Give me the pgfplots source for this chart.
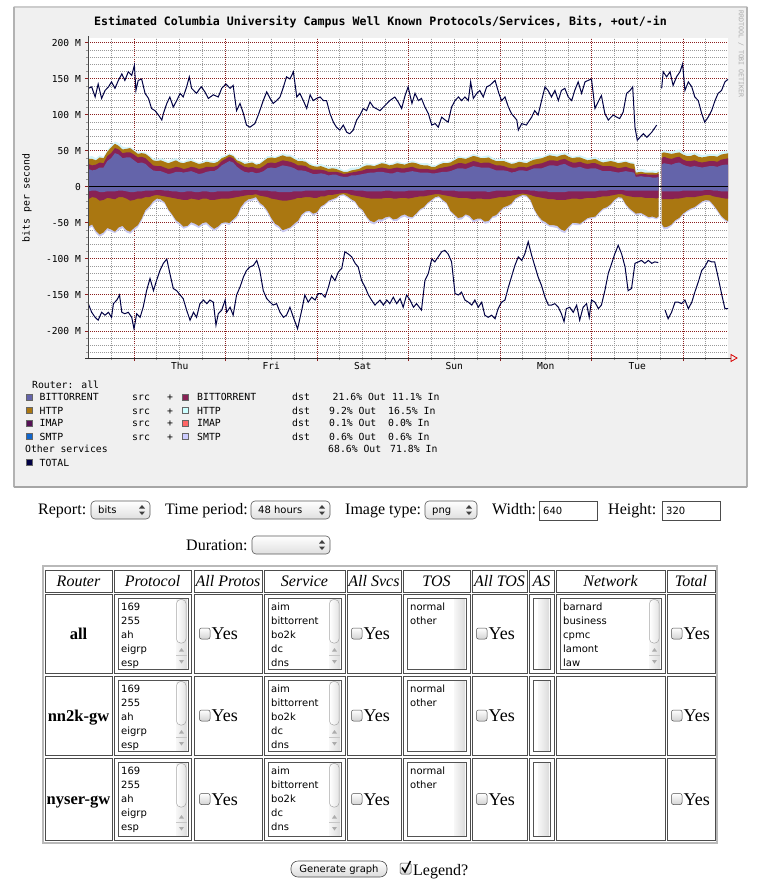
\documentclass[border=0pt]{standalone}
\usepackage{fontspec}
\setmainfont{Liberation Serif}
\newfontfamily\rrdfont{DejaVu Sans Mono}
\newfontfamily\uifont{DejaVu Sans}
\usepackage{pgfplots}
\pgfplotsset{compat=1.18}
\usepackage{pgfplotstable}

\definecolor{rrdback}{HTML}{F0F0F0}
\definecolor{rrdmajor}{HTML}{8C2020}
\definecolor{rrdminor}{HTML}{999999}
\definecolor{btsrc}{HTML}{6464AA}
\definecolor{btdst}{HTML}{882255}
\definecolor{httpsrc}{HTML}{AA7711}
\definecolor{httpdst}{HTML}{CCFFFF}
\definecolor{imapsrc}{HTML}{551155}
\definecolor{imapdst}{HTML}{FF6666}
\definecolor{smtpsrc}{HTML}{1166CC}
\definecolor{smtpdst}{HTML}{CCCCFF}
\definecolor{totalc}{HTML}{000044}
\definecolor{posedge}{HTML}{D4F4FA}
\definecolor{negedge}{HTML}{C8C8F0}

\tikzset{
 rrd/.style={font=\rrdfont\fontsize{9.8}{11}\selectfont, inner sep=0pt, anchor=base west, text=black},
 html/.style={font=\fontsize{16}{18}\selectfont, inner sep=0pt, anchor=base west},
 yes/.style={font=\fontsize{18}{20}\selectfont, inner sep=0pt, anchor=base west},
 ui/.style={font=\uifont\fontsize{10}{12}\selectfont, inner sep=0pt, anchor=base west},
 cellb/.style={draw=gray!60!black, line width=0.8pt},
}

\newcommand{\dropdown}[4]{%
 \shadedraw[top color=white, bottom color=gray!25, rounded corners=4pt, draw=gray!70!black, line width=0.6pt] (#1,-#3+9) rectangle (#2,-#3-9);
 \node[ui] at (#1+7,-#3-3.5) {#4};
 \fill[black!75] (#2-11,-#3+1.5) -- (#2-8,-#3+5) -- (#2-5,-#3+1.5) -- cycle;
 \fill[black!75] (#2-11,-#3-1.5) -- (#2-8,-#3-5) -- (#2-5,-#3-1.5) -- cycle;
}
\newcommand{\checkbox}[2]{%
 \shadedraw[top color=white, bottom color=gray!35, draw=gray!60!black, rounded corners=2pt, line width=0.5pt] (#1,-#2+5.5) rectangle (#1+10.5,-#2-5.5);}
\newcommand{\listbox}[6]{%
 \fill[white] (#1,-#2) rectangle (#3,-#4);
 \shade[left color=gray!6, right color=gray!28] (#3-12,-#2-1) rectangle (#3-1,-#4+1);
 \ifnum#6=1
   \shadedraw[left color=white, right color=gray!22, draw=gray!70, rounded corners=4pt, line width=0.5pt] (#3-11.5,-#2-1.5) rectangle (#3-2,-#2-45);
   \draw[gray!45] (#3-12,-#4+14) -- (#3-1,-#4+14);
   \fill[gray!65] (#3-9,-#4+17.5) -- (#3-6.5,-#4+21) -- (#3-4,-#4+17.5) -- cycle;
   \fill[gray!65] (#3-9,-#4+9) -- (#3-6.5,-#4+5.5) -- (#3-4,-#4+9) -- cycle;
 \fi
 \foreach \t [count=\i] in {#5} {\node[ui] at (#1+3,{-(#2+12+14*(\i-1))}) {\t};}
 \draw[gray!65!black, line width=0.8pt] (#1,-#2) rectangle (#3,-#4);
}

\pgfplotstableread{
h b m g l nb nm ng nl
-12 25 32 39 42 -6 -17 -55 -58
-11 23 30 39 43 -5 -14 -52 -55
-10 24 31 37 40 -5 -15 -61 -64
-9 27 34 41 44 -7 -19 -66 -69
-8 27 33 40 42 -7 -18 -63 -66
-7 36 43 49 51 -6 -15 -57 -60
-6 40 47 55 58 -6 -16 -59 -62
-5 47 54 60 63 -6 -17 -62 -64
-4 45 52 57 61 -5 -14 -56 -60
-3 40 47 52 56 -5 -14 -54 -57
-2 41 48 53 55 -6 -16 -60 -63
-1 41 48 54 56 -7 -19 -62 -65
0 37 45 50 52 -7 -18 -57 -60
1 33 41 46 49 -6 -16 -53 -56
2 34 42 47 49 -6 -16 -44 -47
3 32 40 46 48 -5 -14 -32 -35
4 27 35 42 44 -5 -14 -27 -30
5 23 30 37 40 -5 -12 -20 -23
6 22 29 36 38 -4 -11 -16 -19
7 22 29 37 40 -4 -12 -17 -20
8 20 27 35 38 -5 -13 -21 -23
9 18 25 33 36 -5 -14 -31 -33
10 19 26 35 39 -6 -15 -38 -40
11 21 28 37 40 -6 -16 -46 -49
12 21 27 34 37 -7 -17 -50 -53
13 20 25 33 35 -7 -18 -55 -58
14 21 26 35 38 -6 -18 -54 -56
15 22 28 36 39 -6 -16 -49 -52
16 20 27 34 36 -7 -17 -51 -54
17 18 25 32 34 -7 -18 -54 -57
18 19 26 33 35 -6 -16 -50 -53
19 21 28 35 38 -6 -16 -49 -52
20 22 28 34 36 -7 -18 -54 -57
21 22 28 33 36 -7 -18 -58 -61
22 25 30 35 38 -6 -17 -55 -58
23 30 36 40 43 -6 -16 -50 -52
24 33 39 42 44 -6 -16 -49 -51
25 36 42 45 47 -6 -16 -50 -53
26 34 40 43 45 -5 -15 -45 -47
27 28 34 37 40 -5 -14 -40 -43
28 24 31 35 37 -5 -13 -28 -31
29 21 28 32 35 -4 -12 -21 -24
30 20 27 33 35 -4 -11 -17 -20
31 21 28 34 36 -4 -11 -16 -19
32 19 26 31 33 -4 -10 -14 -17
33 20 26 32 34 -5 -12 -22 -25
34 22 29 36 38 -5 -13 -26 -28
35 26 33 40 43 -5 -14 -33 -36
36 27 34 41 43 -6 -16 -43 -46
37 26 33 40 42 -6 -17 -51 -54
38 28 35 42 44 -7 -18 -54 -57
39 30 37 44 47 -7 -19 -60 -63
40 29 36 42 45 -7 -19 -58 -61
41 28 35 42 45 -7 -18 -56 -58
42 26 33 39 42 -6 -17 -51 -54
43 23 30 36 39 -6 -15 -47 -50
44 23 30 36 39 -6 -15 -38 -41
45 22 29 35 37 -5 -14 -34 -36
46 20 26 31 34 -5 -14 -33 -35
47 18 24 29 31 -5 -15 -37 -40
48 18 24 28 31 -5 -15 -35 -37
49 19 24 29 32 -5 -13 -27 -29
50 18 23 27 30 -5 -13 -24 -26
51 16 21 25 28 -4 -11 -19 -21
52 17 21 26 28 -4 -11 -17 -19
53 17 21 25 28 -4 -10 -15 -17
54 15 20 23 26 -4 -9 -11 -13
55 14 18 21 23 -4 -8 -10 -12
56 14 19 21 24 -4 -9 -13 -15
57 16 20 23 27 -4 -11 -17 -19
58 16 21 24 27 -5 -12 -20 -22
59 17 22 25 28 -5 -13 -28 -30
60 18 23 28 31 -5 -14 -32 -34
61 19 25 30 33 -6 -15 -41 -43
62 20 25 30 32 -6 -16 -47 -50
63 20 25 29 31 -6 -16 -49 -52
64 21 26 31 33 -6 -16 -45 -48
65 21 27 33 35 -6 -16 -45 -48
66 20 26 32 34 -5 -15 -42 -45
67 19 25 30 32 -5 -15 -41 -43
68 19 26 31 33 -6 -16 -45 -47
69 21 27 33 36 -6 -16 -44 -47
70 20 26 32 34 -6 -15 -40 -43
71 20 26 31 33 -6 -15 -38 -41
72 21 27 33 35 -5 -16 -41 -44
73 22 28 34 37 -5 -15 -42 -44
74 21 26 33 35 -5 -14 -37 -39
75 20 25 31 33 -5 -13 -31 -33
76 20 25 30 33 -5 -13 -28 -30
77 20 25 30 33 -4 -12 -22 -24
78 19 24 28 31 -4 -11 -18 -20
79 19 24 28 30 -4 -10 -14 -16
80 20 26 31 33 -4 -10 -13 -15
81 21 27 33 36 -5 -11 -18 -20
82 21 28 33 35 -5 -12 -22 -24
83 22 29 34 36 -5 -13 -33 -35
84 24 31 37 39 -5 -14 -38 -40
85 26 33 40 43 -6 -15 -43 -46
86 26 33 40 42 -6 -15 -42 -45
87 25 32 39 41 -6 -15 -38 -40
88 27 34 41 43 -6 -16 -40 -43
89 29 36 43 46 -6 -17 -46 -49
90 28 35 42 44 -6 -16 -44 -47
91 27 33 40 42 -6 -16 -44 -46
92 27 34 40 43 -6 -17 -48 -51
93 27 34 41 44 -7 -17 -47 -50
94 25 32 38 41 -6 -16 -41 -43
95 23 30 36 38 -5 -15 -39 -42
96 23 30 36 39 -5 -14 -33 -35
97 23 29 36 39 -5 -14 -28 -30
98 22 27 34 36 -5 -13 -26 -28
99 20 26 32 34 -5 -12 -23 -25
100 21 26 33 35 -4 -11 -16 -18
101 23 28 35 37 -4 -10 -13 -15
102 23 28 34 37 -4 -9 -11 -13
103 22 27 33 36 -4 -10 -12 -14
104 24 29 36 38 -5 -11 -18 -20
105 26 31 38 41 -5 -13 -31 -33
106 26 32 39 42 -6 -14 -40 -42
107 26 33 40 42 -6 -15 -46 -49
108 28 35 42 44 -6 -16 -49 -52
109 30 37 44 47 -7 -17 -53 -55
110 30 37 43 46 -7 -17 -53 -56
111 29 36 42 45 -7 -18 -54 -57
112 31 38 44 47 -7 -18 -59 -62
113 32 39 45 48 -7 -18 -61 -64
114 29 36 42 45 -6 -17 -55 -58
115 27 34 40 42 -6 -16 -50 -52
116 27 34 41 43 -6 -16 -50 -53
117 28 35 41 44 -6 -17 -51 -53
118 26 33 39 42 -6 -16 -47 -49
119 25 32 37 40 -6 -15 -43 -45
120 26 33 38 41 -6 -15 -42 -44
121 26 33 39 42 -6 -15 -41 -43
122 24 31 36 39 -5 -14 -35 -37
123 22 29 34 37 -5 -13 -30 -32
124 22 29 35 38 -5 -13 -28 -30
125 22 29 36 39 -4 -12 -24 -26
126 21 28 35 37 -4 -11 -18 -20
127 20 26 33 35 -4 -10 -14 -16
128 21 27 34 36 -4 -10 -15 -17
129 22 28 35 37 -5 -12 -24 -26
130 21 26 33 35 -5 -13 -30 -32
131.2 20 25 32 34 -5 -14 -35 -37
131.6 14 17 20 23 -5 -14 -37 -39
133 15 18 21 25 -5 -14 -36 -38
134 14 18 20 24 -5 -15 -39 -41
135 14 17 20 22 -5 -15 -42 -44
136 13 17 20 23 -5 -15 -41 -43
137 13 17 19 22 -5 -16 -43 -45
137.6 14 18 21 24 -5 -15 -41 -43
138.4 31 40 47 49 -6 -17 -51 -54
139 33 42 48 51 -6 -17 -56 -59
140 32 40 47 50 -6 -17 -55 -58
141 31 39 46 49 -6 -17 -52 -54
142 33 41 47 51 -6 -16 -46 -48
143 34 42 48 52 -6 -16 -43 -45
144 31 38 45 49 -5 -15 -37 -39
145 29 36 43 46 -5 -14 -33 -35
146 28 36 43 47 -5 -14 -30 -32
147 29 37 45 48 -5 -14 -28 -30
148 28 35 42 46 -5 -13 -24 -26
149 27 34 41 44 -5 -12 -20 -22
150 28 35 42 45 -4 -11 -18 -20
151 29 36 43 46 -4 -11 -19 -21
152 29 36 43 46 -5 -13 -25 -27
153 28 35 42 45 -5 -14 -32 -34
154 30 38 45 49 -6 -15 -40 -42
155 31 39 46 50 -6 -16 -45 -47
156 31 40 47 51 -6 -16 -48 -50
}\stackdata

\pgfplotstableread{
h v
-12.0 137
-11.1 139
-10.2 125
-9.4 143
-8.5 123
-7.6 134
-6.7 139
-5.9 146
-5.0 137
-4.1 148
-3.2 157
-2.4 148
-1.5 160
-0.6 155
0.1 169
0.5 134
1.1 148
2.0 150
2.9 130
3.8 123
4.6 109
5.5 106
6.4 100
7.3 93
7.7 102
8.6 116
9.4 125
10.3 111
11.2 120
12.1 130
12.9 125
13.8 139
14.5 153
15.1 137
16.4 130
17.3 137
17.7 139
18.6 132
19.5 123
20.8 128
22.1 125
23.0 137
24.1 143
25.2 137
26.0 141
26.9 106
27.8 116
28.7 102
29.5 86
30.4 83
31.7 88
32.6 100
33.9 120
34.8 132
35.7 123
36.5 116
37.4 120
38.3 125
39.2 139
40.0 153
40.9 150
41.8 160
42.7 125
43.5 130
44.4 120
45.3 109
46.2 128
47.0 120
47.9 123
48.8 125
49.7 120
50.5 120
51.4 102
52.3 90
53.1 83
54.0 79
54.9 86
55.8 76
56.6 74
57.5 79
58.4 93
59.3 100
60.1 109
61.0 106
61.9 118
62.8 111
64.5 106
65.8 113
67.1 120
68.4 125
69.3 118
70.2 109
71.1 127
71.9 139
72.9 116
73.7 130
74.6 120
75.4 123
76.3 111
77.2 102
78.1 86
79.0 88
79.8 83
80.7 97
81.6 93
82.4 90
83.3 111
84.2 120
85.1 125
85.9 120
86.8 125
87.7 120
88.3 146
89.0 123
89.9 130
90.7 134
91.6 125
92.5 139
93.3 141
94.7 148
95.7 130
96.4 120
97.3 125
98.2 111
99.0 102
100.4 93
100.8 79
101.7 88
102.9 86
104.3 97
105.1 106
106.0 100
106.9 120
107.8 139
108.6 134
109.5 125
110.4 134
111.3 120
112.1 134
113.0 137
113.9 125
114.8 120
115.6 134
116.5 146
117.4 130
118.3 146
119.1 148
120.0 150
120.9 109
121.9 120
122.6 127
123.5 102
124.4 93
125.7 100
126.6 97
127.4 95
128.3 104
129.2 130
130.1 134
130.8 139
131.4 83
132.0 65
132.7 69
133.6 74
134.5 69
135.8 76
137.1 86
137.8 nan
138.4 137
138.8 160
139.7 153
140.6 160
141.4 141
142.3 153
143.2 160
143.9 171
144.5 134
145.4 146
146.3 139
147.1 125
148.0 120
148.9 102
149.7 90
150.6 97
151.5 106
152.4 120
153.2 130
154.1 134
155.0 146
155.9 150
}\totout

\pgfplotstableread{
h v
-12.0 -162
-11.1 -174
-10.2 -181
-9.4 -185
-8.5 -174
-7.6 -178
-6.7 -174
-5.9 -181
-5.4 -162
-4.5 -157
-3.8 -150
-3.2 -174
-2.4 -176
-1.5 -174
-0.6 -181
0.0 -197
0.7 -176
1.6 -181
2.4 -167
3.3 -144
4.2 -127
5.1 -144
5.9 -130
6.8 -116
7.7 -106
8.6 -100
9.4 -120
10.3 -141
11.2 -144
12.1 -150
12.9 -155
13.8 -171
14.7 -185
15.6 -174
16.4 -181
17.3 -162
18.2 -157
19.1 -162
19.9 -157
20.8 -160
21.5 -192
22.1 -176
23.0 -171
23.9 -157
24.3 -174
25.2 -167
26.0 -178
26.9 -150
27.8 -139
28.7 -125
29.5 -116
30.4 -111
31.3 -109
32.2 -102
33.0 -116
33.9 -144
34.8 -155
35.7 -160
36.5 -164
37.4 -162
38.3 -174
39.2 -181
40.0 -178
40.9 -167
41.8 -181
42.9 -197
44.0 -171
44.8 -150
45.7 -160
46.6 -153
47.5 -157
48.3 -148
49.2 -148
50.1 -153
51.0 -139
51.8 -123
52.7 -130
53.6 -118
54.5 -113
55.3 -90
56.2 -93
57.1 -97
58.0 -106
58.8 -111
59.7 -130
60.6 -139
61.5 -150
62.3 -157
63.2 -164
64.5 -157
65.4 -164
66.3 -157
67.1 -162
68.0 -153
68.9 -162
69.8 -155
70.6 -167
71.5 -150
72.4 -157
73.3 -167
74.1 -162
75.4 -171
76.3 -130
77.2 -120
78.1 -100
78.9 -104
79.8 -97
80.7 -90
81.5 -88
82.4 -93
83.3 -104
84.2 -148
85.1 -150
85.9 -146
86.8 -157
87.7 -160
88.6 -164
89.4 -157
90.3 -167
91.2 -160
92.0 -178
92.9 -181
93.8 -178
94.7 -183
95.5 -169
96.4 -160
97.3 -157
98.2 -139
99.0 -125
99.9 -109
100.8 -97
101.7 -102
102.5 -93
103.4 -76
104.3 -95
105.2 -111
106.0 -125
106.9 -137
107.8 -153
108.7 -164
109.5 -164
110.4 -162
111.3 -167
112.1 -176
112.8 -187
113.4 -169
114.3 -167
115.2 -174
116.1 -164
116.9 -185
117.8 -167
118.7 -162
119.4 -181
120.0 -157
120.9 -160
121.8 -169
122.6 -164
123.5 -144
124.4 -120
125.3 -106
126.1 -93
127.0 -81
127.9 -93
128.8 -111
129.6 -144
130.5 -141
131.4 -106
132.3 -104
133.1 -102
134.0 -106
134.9 -102
135.8 -106
136.6 -104
137.5 -105
137.9 nan
139.3 -171
140.1 -183
141.0 -174
141.9 -160
142.8 -160
143.6 -162
144.5 -157
145.4 -169
146.3 -160
147.1 -146
148.0 -132
148.9 -116
149.7 -111
150.6 -102
151.5 -104
152.3 -104
153.2 -125
154.1 -148
155.0 -169
155.9 -169
}\totin

\newcommand{\stackseg}[1]{%
 \addplot[draw=none, fill=posedge, restrict x to domain=#1] table[x=h,y=l]{\stackdata} \closedcycle;
 \addplot[draw=none, fill=httpsrc, restrict x to domain=#1] table[x=h,y=g]{\stackdata} \closedcycle;
 \addplot[draw=none, fill=btdst, restrict x to domain=#1] table[x=h,y=m]{\stackdata} \closedcycle;
 \addplot[draw=none, fill=btsrc, restrict x to domain=#1] table[x=h,y=b]{\stackdata} \closedcycle;
 \addplot[draw=none, fill=negedge, restrict x to domain=#1] table[x=h,y=nl]{\stackdata} \closedcycle;
 \addplot[draw=none, fill=httpsrc, restrict x to domain=#1] table[x=h,y=ng]{\stackdata} \closedcycle;
 \addplot[draw=none, fill=btdst, restrict x to domain=#1] table[x=h,y=nm]{\stackdata} \closedcycle;
 \addplot[draw=none, fill=btsrc, restrict x to domain=#1] table[x=h,y=nb]{\stackdata} \closedcycle;
}

\begin{document}
\begin{tikzpicture}
\useasboundingbox (0pt,0pt) rectangle (761pt,-887pt);
\begin{scope}[x=1pt,y=1pt]
\fill[white] (0,0) rectangle (761,-887);
\fill[rrdback] (13,-6) rectangle (748,-488);
\draw[line width=2pt, draw=gray!40] (14,-7) -- (747,-7);
\draw[line width=2pt, draw=gray!60] (14,-487) -- (14,-7);
\draw[line width=2pt, draw=gray!62] (747,-7) -- (747,-487);
\draw[line width=2pt, draw=gray!70] (14,-487) -- (747,-487);
\node[font=\rrdfont\bfseries\fontsize{11.6}{13}\selectfont, anchor=base, inner sep=0pt] at (380.5,-25) {Estimated Columbia University Campus Well Known Protocols/Services, Bits, +out/-in};
\node[font=\rrdfont\fontsize{6.6}{7}\selectfont, text=gray!65, rotate=-90, inner sep=0pt] at (741,-54) {RRDTOOL / TOBI OETIKER};
\end{scope}

\begin{axis}[
 at={(88pt,-358pt)}, anchor=south west,
 width=640pt, height=320pt, scale only axis,
 xmin=-12.07, xmax=155.8, ymin=-237.5, ymax=206.9,
 axis line style={draw=none},
 axis background/.style={fill=white},
 no markers,
 xtick={0,24,48,72,96,120,144}, xticklabels={},
 minor xtick={-6,6,12,18,30,36,42,54,60,66,78,84,90,102,108,114,126,132,138,150},
 extra x ticks={12,36,60,84,108,132},
 extra x tick labels={Thu,Fri,Sat,Sun,Mon,Tue},
 extra x tick style={grid=none, major tick length=0pt},
 ytick={-200,-150,-100,-50,0,50,100,150,200},
 yticklabels={-200 M,-150 M,-100 M,-50 M,0,50 M,100 M,150 M,200 M},
 minor ytick={-230,-220,-210,-190,-180,-170,-160,-140,-130,-120,-110,-90,-80,-70,-60,-40,-30,-20,-10,10,20,30,40,60,70,80,90,110,120,130,140,160,170,180,190},
 grid=both,
 major grid style={draw=rrdmajor, line width=1pt, dash pattern=on 1pt off 1pt},
 minor grid style={draw=rrdminor, line width=1pt, dash pattern=on 1pt off 1pt},
 tick align=outside, xtick pos=bottom, ytick pos=left,
 major tick length=3pt, minor tick length=2pt,
 major tick style={draw=rrdmajor, line width=1pt, solid},
 minor tick style={draw=rrdminor, line width=1pt, solid},
 tick label style={font=\rrdfont\fontsize{9.6}{11}\selectfont},
 yticklabel style={anchor=east, inner sep=0pt, xshift=-4pt},
 xticklabel style={anchor=north, inner sep=0pt, yshift=-4pt},
 ylabel={bits per second},
 ylabel style={font=\rrdfont\fontsize{9.8}{11}\selectfont, at={(axis description cs:-0.0953,0.5)}, anchor=center, inner sep=0pt},
]
\stackseg{-13:137.8}
\stackseg{138.2:157}
\addplot[black, line width=1pt] coordinates {(-12.07,0) (155.8,0)};
\addplot[totalc, line width=1pt, unbounded coords=jump] table[x=h,y=v]{\totout};
\addplot[totalc, line width=1pt, unbounded coords=jump] table[x=h,y=v]{\totin};
\end{axis}

\begin{scope}[x=1pt,y=1pt]
\draw[gray!55!black, line width=1pt] (88,-359) -- (88,-36);
\draw[black!80, line width=1pt] (85,-358) -- (731,-358);
\draw[red!85!black, line width=0.8pt] (731,-354.5) -- (737,-358) -- (731,-361.5) -- cycle;
% RRD legend
\node[rrd] at (32,-388.5) {Router: all};
\foreach \yc/\na/\ca/\cb in {397.3/BITTORRENT/btsrc/btdst, 410.7/HTTP/httpsrc/httpdst, 423.3/IMAP/imapsrc/imapdst, 436.7/SMTP/smtpsrc/smtpdst}{
  \filldraw[fill=\ca, draw=black!60, line width=0.6pt] (26,-\yc+3) rectangle (32,-\yc-3);
  \node[rrd] at (39.5,-\yc-3.5) {\na};
  \node[rrd] at (132,-\yc-3.5) {src};
  \node[rrd] at (167,-\yc-3.5) {+};
  \filldraw[fill=\cb, draw=black!60, line width=0.6pt] (182,-\yc+3) rectangle (188,-\yc-3);
  \node[rrd] at (197,-\yc-3.5) {\na};
  \node[rrd] at (292,-\yc-3.5) {dst};
}
\node[rrd, anchor=base east] at (386,-400.8) {21.6\% Out};
\node[rrd] at (392,-400.8) {11.1\% In};
\node[rrd] at (329,-414.2) {9.2\% Out};
\node[rrd] at (388,-414.2) {16.5\% In};
\node[rrd] at (329,-426.8) {0.1\% Out};
\node[rrd] at (388,-426.8) {0.0\% In};
\node[rrd] at (329,-440.2) {0.6\% Out};
\node[rrd] at (388,-440.2) {0.6\% In};
\node[rrd] at (25,-452.8) {Other services};
\node[rrd] at (328,-452.8) {68.6\% Out};
\node[rrd] at (390,-452.8) {71.8\% In};
\filldraw[fill=totalc, draw=black!60, line width=0.6pt] (26,-459.7) rectangle (32,-465.7);
\node[rrd] at (39.5,-466.2) {TOTAL};

% ---- HTML form ----
\node[html] at (38,-514) {Report:};
\dropdown{91}{150}{510}{bits}
\node[html] at (165,-514) {Time period:};
\dropdown{251}{330}{510}{48 hours}
\node[html] at (345,-514) {Image type:};
\dropdown{425}{477}{510}{png}
\node[html] at (492,-514) {Width:};
\fill[white] (539,-501) rectangle (597,-520);
\draw[gray!60!black, line width=0.7pt] (539,-501) rectangle (597,-520);
\node[ui] at (543,-514) {640};
\node[html] at (608,-514) {Height:};
\fill[white] (662,-501) rectangle (720,-520);
\draw[gray!60!black, line width=0.7pt] (662,-501) rectangle (720,-520);
\node[ui] at (666,-514) {320};
\node[html] at (186,-550) {Duration:};
\dropdown{252}{330}{545}{}

% table
\draw[gray!55, line width=1.2pt] (43,-566) rectangle (717,-843);
\foreach \xa/\xb in {45/112,114/191,194/262,264/345,347/401,403/470,472/527,529/554,556/665,667/715}{
  \foreach \ya/\yb in {570/592,594/673,676/755,758/840}{
    \draw[cellb] (\xa,-\ya) rectangle (\xb,-\yb);
  }
}
\foreach \xc/\tx in {78.5/Router,152.5/Protocol,228/All Protos,304.5/Service,374/All Svcs,436.5/TOS,499.5/All TOS,541.5/AS,610.5/Network,691/Total}{
  \node[html, anchor=base, font=\itshape\fontsize{16}{18}\selectfont] at (\xc,-586) {\tx};
}
\foreach \yc/\ya/\yb/\lab in {633.5/598/669/all,715.5/680/751/nn2k-gw,799/762/836/nyser-gw}{
  \node[html, anchor=base, font=\bfseries\fontsize{16.5}{18}\selectfont] at (78.5,-\yc-5.5) {\lab};
  \listbox{118}{\ya}{188}{\yb}{169,255,ah,eigrp,esp}{1}
  \listbox{268}{\ya}{341}{\yb}{aim,bittorrent,bo2k,dc,dns}{1}
  \listbox{407}{\ya}{466}{\yb}{normal,other}{0}
  \listbox{533}{\ya}{550}{\yb}{}{0}
  \checkbox{199.5}{\yc}
  \node[yes] at (211.5,-\yc-6) {Yes};
  \checkbox{351.5}{\yc}
  \node[yes] at (363.5,-\yc-6) {Yes};
  \checkbox{476.5}{\yc}
  \node[yes] at (488.5,-\yc-6) {Yes};
  \checkbox{671.5}{\yc}
  \node[yes] at (683.5,-\yc-6) {Yes};
}
\listbox{560}{598}{661}{669}{barnard,business,cpmc,lamont,law}{1}

% bottom controls
\shadedraw[top color=white, bottom color=gray!28, draw=gray!60!black, rounded corners=7pt, line width=0.6pt] (291,-861) rectangle (387,-877);
\node[ui, anchor=base] at (339,-872.5) {Generate graph};
\shadedraw[top color=white, bottom color=gray!30, draw=gray!60!black, rounded corners=1.5pt, line width=0.5pt] (400,-863) rectangle (411,-874);
\draw[black, line width=1.4pt] (402,-867.5) -- (405,-872) -- (410.5,-861);
\node[html] at (413,-875) {Legend?};
\end{scope}
\end{tikzpicture}
\end{document}
